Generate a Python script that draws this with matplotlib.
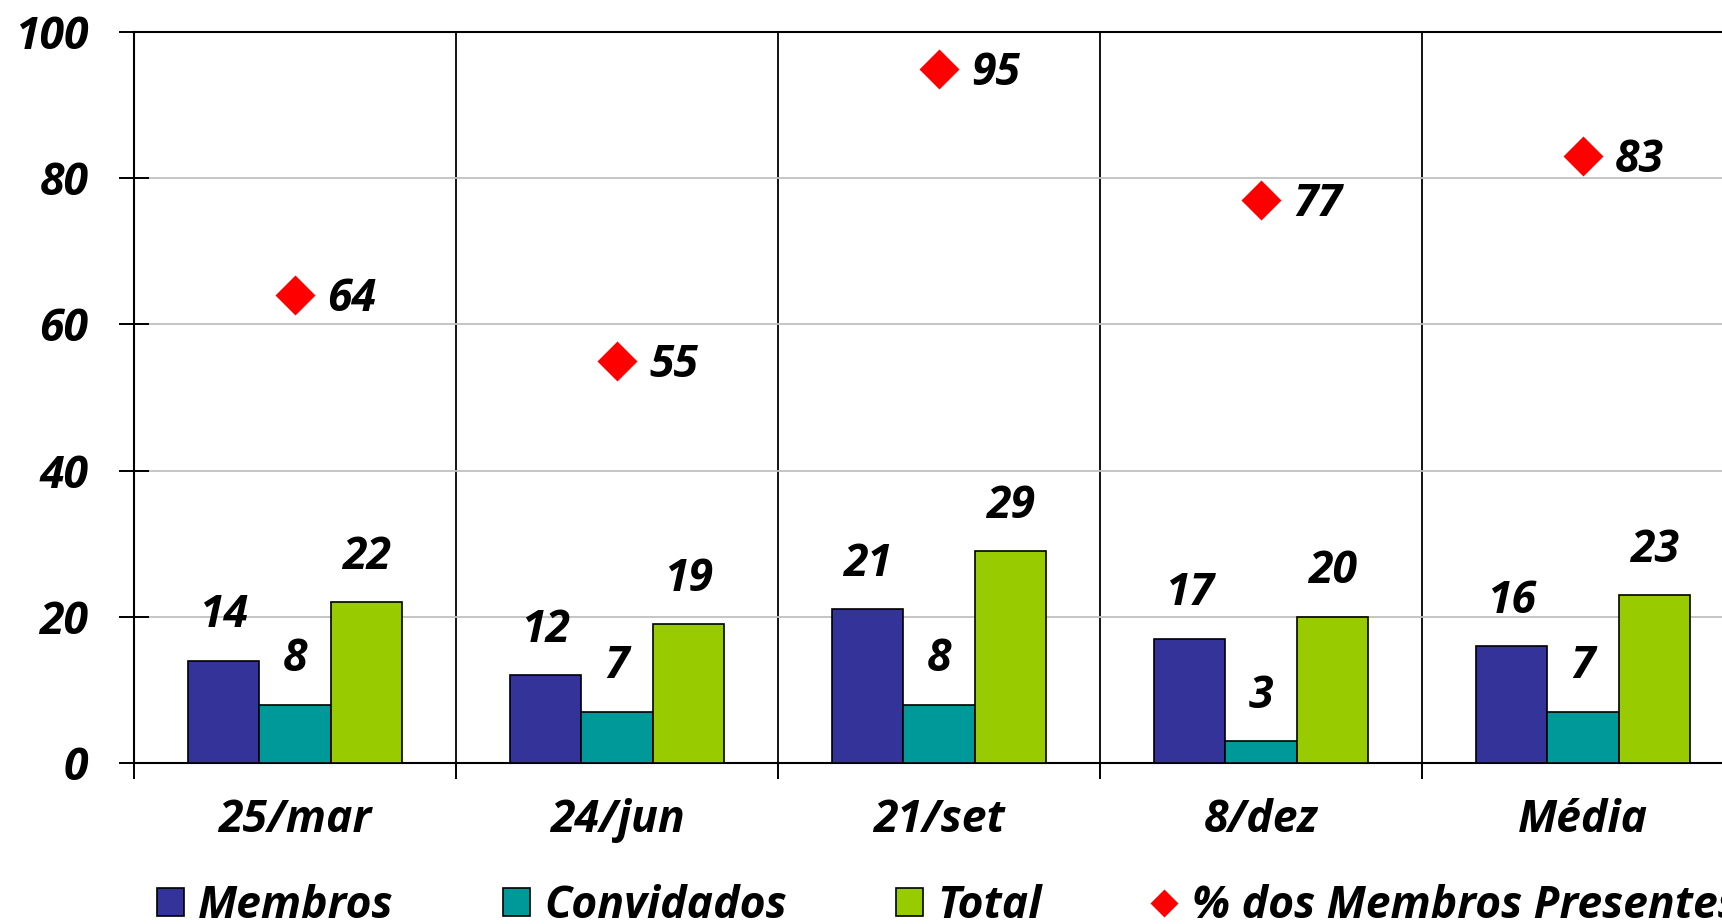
#!/usr/bin/env python3
import matplotlib

matplotlib.use("Agg")
import matplotlib.pyplot as plt
import numpy as np

categories = ["25/mar", "24/jun", "21/set", "8/dez", "Média"]
membros = [14, 12, 21, 17, 16]
convidados = [8, 7, 8, 3, 7]
total = [22, 19, 29, 20, 23]
pct_membros = [64, 55, 95, 77, 83]
series_names = ["Membros", "Convidados", "Total", "% dos Membros Presentes"]
y_ticks = [0, 20, 40, 60, 80, 100]

plt.rcParams["font.family"] = ["Open Sans", "DejaVu Sans"]
plt.rcParams["font.weight"] = "bold"
plt.rcParams["font.style"] = "italic"
plt.rcParams["font.size"] = 32

W, H = 1722, 924
fig = plt.figure(figsize=(W / 100, H / 100), dpi=100)
# axes run past the right edge of the figure, like the original
ax = fig.add_axes([134 / W, 1 - 763 / H, 1610 / W, 731 / H])

x = np.arange(len(categories))
w = 0.222
bar_kw = dict(edgecolor="black", linewidth=1.2, zorder=3)
b1 = ax.bar(x - w, membros, w, color="#333399", **bar_kw)
b2 = ax.bar(x, convidados, w, color="#009999", **bar_kw)
b3 = ax.bar(x + w, total, w, color="#99CC00", **bar_kw)
(pts,) = ax.plot(x, pct_membros, "D", color="#FF0000", ms=20, mec="none",
                 ls="none", zorder=4, clip_on=False)

for offset, values in ((-w, membros), (0, convidados), (w, total)):
    for xi, v in zip(x, values):
        ax.annotate(str(v), (xi + offset, v), xytext=(0, 24), textcoords="offset points",
                    ha="center", va="baseline")
for xi, v in zip(x, pct_membros):
    ax.annotate(str(v), (xi, v), xytext=(23, -11.5), textcoords="offset points",
                ha="left", va="baseline")

ax.set_xlim(-0.5, len(categories) - 0.5)
ax.set_ylim(0, 100)
ax.set_yticks(y_ticks)
ax.set_yticklabels([str(t) for t in y_ticks])
ax.set_xticks(np.arange(-0.5, len(categories), 1))
ax.set_xticklabels([])
ax.set_xticks(x, minor=True)
ax.set_xticklabels(categories, minor=True)

ax.tick_params(axis="y", direction="inout", length=21.6, width=1.4, pad=22)
ax.tick_params(axis="x", which="major", direction="out", length=11.5, width=1.4)
ax.tick_params(axis="x", which="minor", length=0, pad=25)

ax.yaxis.grid(True, color="#C0C0C0", linewidth=1.3)
ax.xaxis.grid(True, which="major", color="black", linewidth=1.3)
ax.set_axisbelow(True)
for spine in ax.spines.values():
    spine.set_linewidth(1.5)

fig.legend([b1, b2, b3, pts], series_names, loc="center left",
           bbox_to_anchor=(157 / W, 1 - 906 / H), ncol=4, frameon=False,
           handlelength=0.61, handleheight=0.61, handletextpad=0.32,
           columnspacing=2.45, borderpad=0, borderaxespad=0, markerscale=0.7)

fig.savefig("out.png", dpi=100)
plt.close(fig)
